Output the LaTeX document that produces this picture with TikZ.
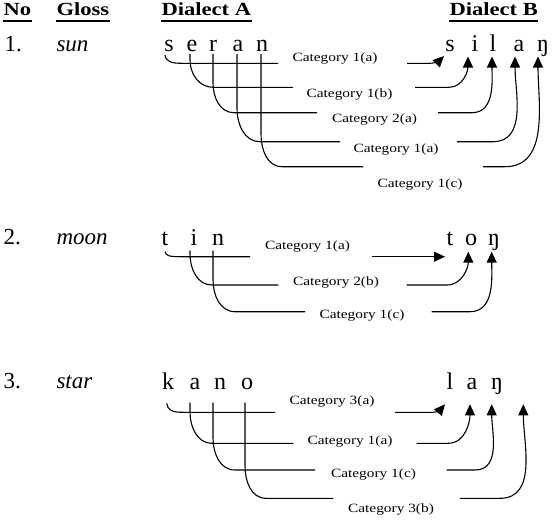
\documentclass[tikz,border=0pt]{standalone}
\usepackage{fontspec}
\setmainfont{Liberation Serif}
\newfontfamily\widefont{Liberation Serif}[FakeStretch=1.22]
\usetikzlibrary{arrows.meta}
\begin{document}
\begin{tikzpicture}[x=1pt,y=-1pt,line width=1.1pt,
 hd/.style={font=\widefont\bfseries\fontsize{18.5}{20}\selectfont,anchor=base west,inner sep=0pt},
 rl/.style={font=\fontsize{23}{26}\selectfont,anchor=base west,inner sep=0pt},
 gl/.style={font=\itshape\fontsize{23}{26}\selectfont,anchor=base west,inner sep=0pt},
 lt/.style={font=\fontsize{24}{26}\selectfont,anchor=base,inner sep=0pt},
 ct/.style={font=\widefont\fontsize{12.6}{14}\selectfont,anchor=base,inner sep=0pt},
 ar/.style={-{Triangle[length=11pt,width=10pt]}},
 ul/.style={line width=1.3pt}]
\fill[white] (0,0) rectangle (559,522);
\useasboundingbox (0,0) rectangle (559,522);
% headers
\node[hd] (hNo) at (3,16) {No};
\node[hd] (hGl) at (56,16) {Gloss};
\node[hd] (hA) at (161,16) {Dialect A};
\node[hd] (hB) at (449,16) {Dialect B};
\foreach \n in {hNo,hGl,hA,hB} \draw[ul] ([yshift=-5pt]\n.base west) -- ([yshift=-5pt]\n.base east);
% ---------- row 1 ----------
\node[rl] (n1) at (4,51) {1.};
\node[gl] (g1) at (56,51) {sun};
\node[lt] (a11) at (169,51) {s};
\node[lt] (a12) at (192,51) {e};
\node[lt] (a13) at (213,51) {r};
\node[lt] (a14) at (238,51) {a};
\node[lt] (a15) at (262,51) {n};
\node[lt] (b11) at (450,51) {s};
\node[lt] (b12) at (475,51) {i};
\node[lt] (b13) at (493,51) {l};
\node[lt] (b14) at (519,51) {a};
\node[lt] (b15) at (543,51) {ŋ};
\draw (165,55) .. controls (166,62) and (172,63.3) .. (182,63.3) -- (278,63.3);
\draw (190,54) -- (190,60) to[out=-90,in=180] (213,87.3) -- (293,87.3);
\draw (213,54) -- (213,83) to[out=-90,in=180] (234,112.7) -- (317,112.7);
\draw (237,54) -- (237,108) to[out=-90,in=180] (260,141.7) -- (340,141.7);
\draw (261,54) -- (261,134) to[out=-90,in=180] (282,166.7) -- (363,166.7);
\draw[ar] (407,63.3) -- (430,63.3) .. controls (436,63.3) and (440,60) .. (444,56);
\draw[ar] (415,87.3) -- (449,87.3) to[out=0,in=-90] (468,56.5);
\draw[ar] (438,112.7) -- (472,112.7) to[out=0,in=-90] (492,56.5);
\draw[ar] (457,141.7) -- (493,141.7) to[out=0,in=-90] (515,56.5);
\draw[ar] (483,166.7) -- (505,166.7) to[out=0,in=-90] (538,56.5);
\node[ct] (c11) at (335,61) {Category 1(a)};
\node[ct] (c12) at (349.5,97) {Category 1(b)};
\node[ct] (c13) at (374.5,122) {Category 2(a)};
\node[ct] (c14) at (396,152) {Category 1(a)};
\node[ct] (c15) at (420,187) {Category 1(c)};
% ---------- row 2 ----------
\node[rl] (n2) at (3,244.5) {2.};
\node[gl] (g2) at (56,244.5) {moon};
\node[lt] (a21) at (165,245) {t};
\node[lt] (a22) at (194,245) {i};
\node[lt] (a23) at (218,245) {n};
\node[lt] (b21) at (450,245) {t};
\node[lt] (b22) at (471,245) {o};
\node[lt] (b23) at (494,245) {ŋ};
\draw (165,251.7) .. controls (166,256) and (170,256.7) .. (180,256.7) -- (250,256.7);
\draw (190,250.5) -- (190,254) to[out=-90,in=180] (212,285) -- (278.3,285);
\draw (213,250.5) -- (213,280) to[out=-90,in=180] (235,311.7) -- (305,311.7);
\draw[ar] (371.7,256.7) -- (445,256.7);
\draw[ar] (406.7,285) -- (447,285) to[out=0,in=-90] (468.3,251.7);
\draw[ar] (431.7,311.7) -- (470,311.7) to[out=0,in=-90] (491.7,251.7);
\node[ct] (c21) at (307.5,249) {Category 1(a)};
\node[ct] (c22) at (336,285.5) {Category 2(b)};
\node[ct] (c23) at (362,318) {Category 1(c)};
% ---------- row 3 ----------
\node[rl] (n3) at (3,388.5) {3.};
\node[gl] (g3) at (56,388.5) {star};
\node[lt] (a31) at (168,389) {k};
\node[lt] (a32) at (195,389) {a};
\node[lt] (a33) at (220,389) {n};
\node[lt] (a34) at (247,389) {o};
\node[lt] (b31) at (450,389) {l};
\node[lt] (b32) at (472,389) {a};
\node[lt] (b33) at (497,389) {ŋ};
\draw (166.7,403.3) .. controls (167.5,410) and (172,412.3) .. (183,412.3) -- (275,412.3);
\draw (190,402.5) -- (190,412) to[out=-90,in=180] (212,443.3) -- (293.3,443.3);
\draw (213,402.5) -- (213,438) to[out=-90,in=180] (235,470) -- (315,470);
\draw (245,402.5) -- (245,466) to[out=-90,in=180] (266,498.3) -- (333.3,498.3);
\draw[ar] (395,412.3) -- (433,412.3) .. controls (438,412.3) and (441,409) .. (445,404.3);
\draw[ar] (416.7,443.3) -- (448,443.3) to[out=0,in=-90] (470,404.3);
\draw[ar] (446.7,470) -- (475,470) to[out=0,in=-90] (491.7,404.3);
\draw[ar] (460,498.3) -- (500,498.3) to[out=0,in=-90] (523.3,404.3);
\node[ct] (c31) at (332,404) {Category 3(a)};
\node[ct] (c32) at (350,444) {Category 1(a)};
\node[ct] (c33) at (373.5,477) {Category 1(c)};
\node[ct] (c34) at (391,512) {Category 3(b)};
\end{tikzpicture}
\end{document}
